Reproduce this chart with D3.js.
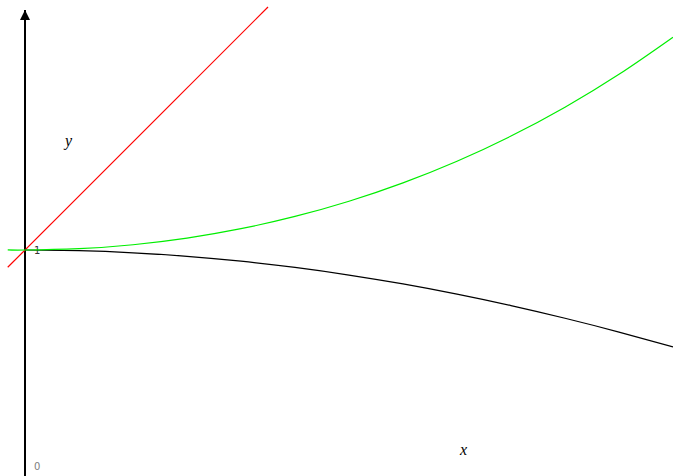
<!DOCTYPE html>
<html>
<head>
<meta charset="utf-8">
<script src="https://cdn.jsdelivr.net/npm/d3@7"></script>
<style>
  html, body { margin: 0; padding: 0; background: #fff; }
  svg { display: block; }
</style>
</head>
<body>
<svg id="chart" width="673" height="476"></svg>
<script>
// ---- data ----
const xValues      = [0, 0.25, 0.5, 0.75, 1, 1.25, 1.5, 1.75, 2, 2.25, 2.5, 2.75, 3];
const greenValues  = [1, 1.0061, 1.0244, 1.0552, 1.0987, 1.1555, 1.2259, 1.3109, 1.4110, 1.5274, 1.6611, 1.8132, 1.9851];
const blackValues  = [1, 0.9967, 0.9870, 0.9708, 0.9482, 0.9192, 0.8841, 0.8428, 0.7956, 0.7426, 0.6840, 0.6201, 0.5510];
const greenLeft    = [[-0.08, 1.0006]];
const redLine      = [[-0.08, 0.92], [1.125, 2.125]];
const yTickValues  = [0, 1];
const yTickLabels  = ["0", "1"];

// ---- scales ----
const svg = d3.select("#chart");
const x = d3.scaleLinear().domain([0, 3]).range([25, 673]);
const y = d3.scaleLinear().domain([0, 1]).range([466, 250]);

const line = d3.line().x(d => x(d[0])).y(d => y(d[1])).curve(d3.curveNatural);

// y axis with arrow
svg.append("defs").append("marker")
  .attr("id", "arrow").attr("viewBox", "0 0 10 10")
  .attr("refX", 10).attr("refY", 5)
  .attr("markerWidth", 5).attr("markerHeight", 5)
  .attr("markerUnits", "strokeWidth")
  .attr("orient", "auto")
  .append("path").attr("d", "M0,0 L10,5 L0,10 z").attr("fill", "#000");

svg.append("line")
  .attr("x1", x(0)).attr("x2", x(0))
  .attr("y1", 476).attr("y2", 10)
  .attr("stroke", "#000").attr("stroke-width", 2)
  .attr("marker-end", "url(#arrow)");

// tick labels
svg.selectAll("text.tick").data(yTickValues).enter().append("text")
  .attr("class", "tick")
  .attr("x", x(0) + 9)
  .attr("y", d => y(d))
  .attr("dy", "0.35em")
  .attr("font-family", "DejaVu Sans, sans-serif")
  .attr("font-size", 10)
  .attr("fill", (d, i) => i === 0 ? "#808080" : "#333")
  .text((d, i) => yTickLabels[i]);

// red line
svg.append("path").datum(redLine)
  .attr("d", d3.line().x(d => x(d[0])).y(d => y(d[1])))
  .attr("fill", "none").attr("stroke", "#ff0000").attr("stroke-width", 1.2);

// black curve
svg.append("path").datum(xValues.map((v, i) => [v, blackValues[i]]))
  .attr("d", line)
  .attr("fill", "none").attr("stroke", "#000").attr("stroke-width", 1.2);

// green curve
svg.append("path").datum(greenLeft.concat(xValues.map((v, i) => [v, greenValues[i]])))
  .attr("d", line)
  .attr("fill", "none").attr("stroke", "#00ee00").attr("stroke-width", 1.2);

// axis labels
svg.append("text").attr("x", 65).attr("y", 146)
  .attr("font-family", "Liberation Serif, DejaVu Serif, serif")
  .attr("font-style", "italic").attr("font-size", 16).text("y");
svg.append("text").attr("x", 460).attr("y", 455)
  .attr("font-family", "Liberation Serif, DejaVu Serif, serif")
  .attr("font-style", "italic").attr("font-size", 16).text("x");
</script>
</body>
</html>
